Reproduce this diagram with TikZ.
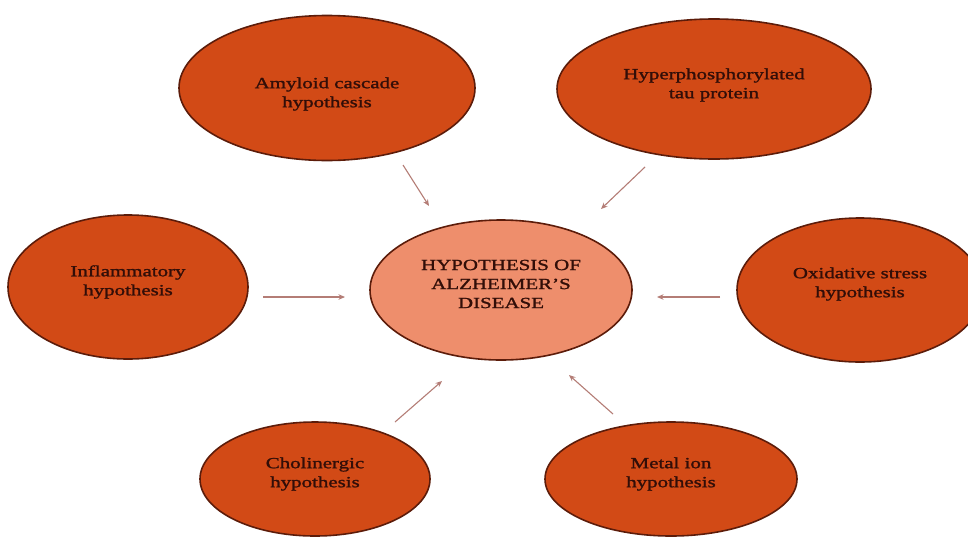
\documentclass[tikz,border=0pt]{standalone}
\usepackage{fontspec}
\setmainfont{Liberation Serif}[FakeStretch=1.35,FakeBold=1.4]
\usetikzlibrary{shapes.geometric,arrows.meta}
\definecolor{fillo}{RGB}{210,74,22}
\definecolor{fillc}{RGB}{238,142,108}
\definecolor{edgec}{RGB}{92,28,10}
\definecolor{txtc}{RGB}{50,14,8}
\definecolor{arrc}{RGB}{180,125,118}
\begin{document}
\begin{tikzpicture}[x=1pt,y=-1pt,
  hypo/.style={ellipse, draw=edgec, line width=1.6pt, fill=fillo, inner sep=0pt},
  core/.style={hypo, fill=fillc},
  lab/.style={font=\fontsize{15.5}{19}\selectfont, text=txtc, align=center, inner sep=0pt},
  arr/.style={draw=arrc, line width=1.1pt, -{Stealth[length=6.5pt,width=5.5pt]}}]
\useasboundingbox (0,0) rectangle (968,536);
\fill[white] (0,0) rectangle (968,536);
\node[hypo, minimum width=296pt, minimum height=145pt,
  label={[lab, yshift=-6pt]center:Amyloid cascade\\hypothesis}] (amy) at (327,88) {};
\node[hypo, minimum width=314pt, minimum height=140pt,
  label={[lab, yshift=4pt]center:Hyperphosphorylated\\tau protein}] (tau) at (714,89) {};
\node[hypo, minimum width=240pt, minimum height=144pt,
  label={[lab, yshift=5pt]center:Inflammatory\\hypothesis}] (inf) at (128,287) {};
\node[core, minimum width=262pt, minimum height=140pt,
  label={[lab, yshift=6pt]center:HYPOTHESIS OF\\ALZHEIMER'S\\DISEASE}] (cen) at (501,290) {};
\node[hypo, minimum width=246pt, minimum height=144pt,
  label={[lab, yshift=6pt]center:Oxidative stress\\hypothesis}] (oxi) at (860,290) {};
\node[hypo, minimum width=230pt, minimum height=114pt,
  label={[lab, yshift=5pt]center:Cholinergic\\hypothesis}] (cho) at (315,479) {};
\node[hypo, minimum width=252pt, minimum height=114pt,
  label={[lab, yshift=5pt]center:Metal ion\\hypothesis}] (met) at (671,479) {};
\coordinate (amyA) at (403,165);
\coordinate (amyB) at (429,206);
\coordinate (tauA) at (645,167);
\coordinate (tauB) at (601,209);
\coordinate (infA) at (263,297);
\coordinate (infB) at (345,297);
\coordinate (oxiA) at (720,297);
\coordinate (oxiB) at (657,297);
\coordinate (choA) at (395,422);
\coordinate (choB) at (442,381);
\coordinate (metA) at (613,414);
\coordinate (metB) at (569,375);
\draw[arr] (amyA) -- (amyB);
\draw[arr] (tauA) -- (tauB);
\draw[arr] (infA) -- (infB);
\draw[arr] (oxiA) -- (oxiB);
\draw[arr] (choA) -- (choB);
\draw[arr] (metA) -- (metB);
\end{tikzpicture}
\end{document}
